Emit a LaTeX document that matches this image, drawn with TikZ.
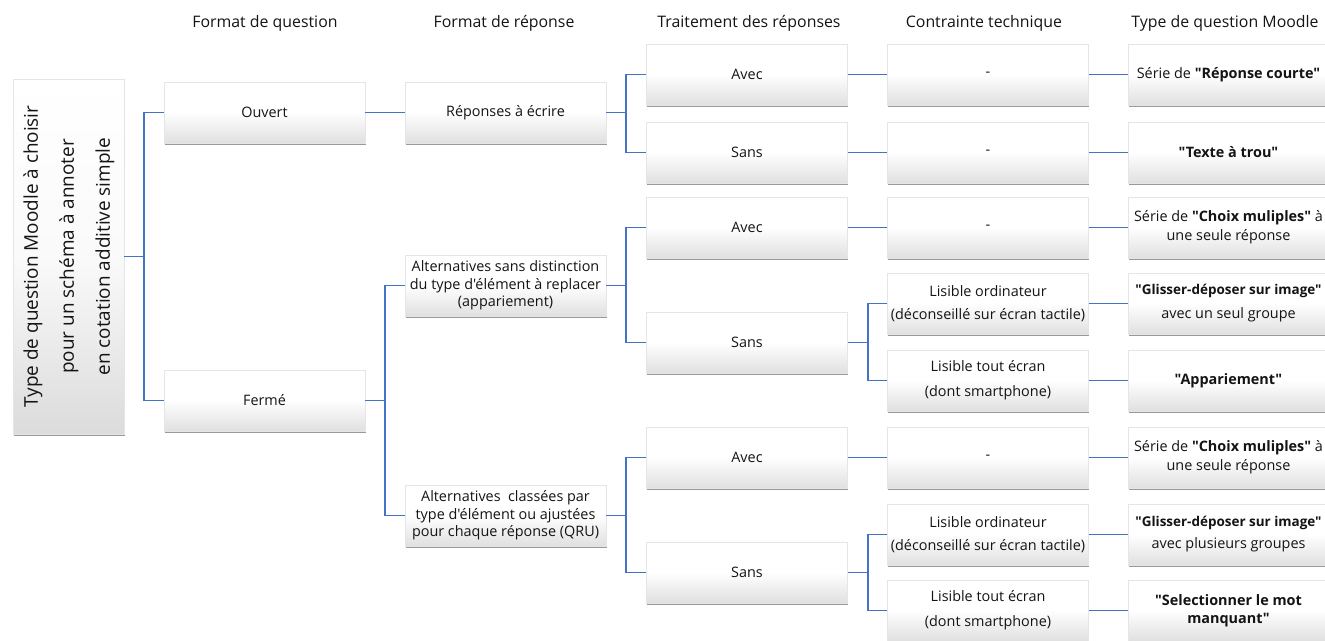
\documentclass[tikz,border=0pt]{standalone}
\usepackage{fontspec}
\setmainfont{Open Sans}[Ligatures=TeXOff]
\usetikzlibrary{shadows}
\definecolor{linkblue}{RGB}{68,114,196}
\definecolor{txt}{RGB}{20,20,20}
\tikzset{
  box/.style={draw=black!10, line width=0.3pt, top color=white, bottom color=black!12, middle color=white,
    minimum width=150.75pt, minimum height=45.75pt, inner sep=0.5pt, align=center, text=txt,
    font=\fontsize{10.8}{13.2}\selectfont,
    drop shadow={shadow xshift=0.6pt, shadow yshift=-1.4pt, opacity=0.5, fill=black!80}},
  rootbox/.style={box, minimum width=83.25pt, minimum height=266.25pt, bottom color=black!14, middle color=black!2},
  conn/.style={draw=linkblue, line width=0.8pt},
  head/.style={font=\fontsize{11.9}{14}\selectfont, text=txt}
}
\newcommand\glisser{{\fontsize{10.1}{13.2}\selectfont\textbf{"Glisser-déposer sur image"}}}
\begin{document}
\begin{tikzpicture}[x=0.75pt,y=-0.75pt]
\useasboundingbox (0,0) rectangle (1325,641);
% headers
\node[head] (h1) at (265,23) {Format de question};
\node[head] (h2) at (504,23) {Format de réponse};
\node[head] (h3) at (749,23) {Traitement des réponses};
\node[head] (h4) at (984,23) {Contrainte technique};
\node[head] (h5) at (1225,23) {Type de question Moodle};
% root
\node[rootbox] (root) at (68.5,256.5) {};
\node[rotate=90, align=center, text=txt, font=\fontsize{14.2}{27}\selectfont] (roottext) at (69,256.5)
  {Type de question Moodle à choisir\\pour un schéma à annoter\\en cotation additive simple};
% column 1
\node[box] (ouvert) at (264.5,112.5) {Ouvert};
\node[box] (ferme) at (264.5,400.5) {Fermé};
% column 2
\node[box] (rep) at (505.5,112.5) {Réponses à écrire};
\node[box] (altsans) at (505.5,285.5) {Alternatives sans distinction\\du type d'élément à replacer\\(appariement)};
\node[box] (altclass) at (505.5,515.5) {Alternatives \ classées par\\type d'élément ou ajustées\\pour chaque réponse (QRU)};
% column 3
\node[box] (avec1) at (747,74.5) {Avec};
\node[box] (sans1) at (747,152.5) {Sans};
\node[box] (avec2) at (747,227.5) {Avec};
\node[box] (sans2) at (747,342.5) {Sans};
\node[box] (avec3) at (747,457.5) {Avec};
\node[box] (sans3) at (747,572.5) {Sans};
% column 4
\node[box] (d1) at (988,74.5) {-};
\node[box] (d2) at (988,152.5) {-};
\node[box] (d3) at (988,227.5) {-};
\node[box] (lo1) at (988,303.5) {Lisible ordinateur\\[4pt](déconseillé sur écran tactile)};
\node[box] (lt1) at (988,380.5) {Lisible tout écran\\[5.5pt](dont smartphone)};
\node[box] (d4) at (988,457.5) {-};
\node[box] (lo2) at (988,534.5) {Lisible ordinateur\\[4pt](déconseillé sur écran tactile)};
\node[box] (lt2) at (988,610.5) {Lisible tout écran\\[5.5pt](dont smartphone)};
% column 5
\node[box] (m1) at (1228.5,74.5) {Série de \textbf{"Réponse courte"}};
\node[box] (m2) at (1228.5,152.5) {\textbf{"Texte à trou"}};
\node[box] (m3) at (1228.5,227.5) {Série de \textbf{"Choix muliples"} à\\[1pt]une seule réponse};
\node[box] (m4) at (1228.5,303.5) {\glisser\\[4.8pt]avec un seul groupe};
\node[box] (m5) at (1228.5,380.5) {\textbf{"Appariement"}};
\node[box] (m6) at (1228.5,457.5) {Série de \textbf{"Choix muliples"} à\\[1pt]une seule réponse};
\node[box] (m7) at (1228.5,534.5) {\glisser\\[3.3pt]avec plusieurs groupes};
\node[box] (m8) at (1228.5,610.5) {\textbf{"Selectionner le mot}\\[0.3pt]\textbf{manquant"}};
% junctions
\coordinate (j0) at (144,256.5);
\coordinate (j1) at (385,400.5);
\coordinate (j2) at (626,112.5);
\coordinate (j3) at (626,285.5);
\coordinate (j4) at (626,515.5);
\coordinate (j5) at (868,342.5);
\coordinate (j6) at (868,572.5);
% connectors
\draw[conn] (root.east) -- (j0);
\draw[conn] (ouvert.west) -| (j0) |- (ferme.west);
\draw[conn] (ouvert.east) -- (rep.west);
\draw[conn] (ferme.east) -- (j1);
\draw[conn] (altsans.west) -| (j1) |- (altclass.west);
\draw[conn] (rep.east) -- (j2);
\draw[conn] (avec1.west) -| (j2) |- (sans1.west);
\draw[conn] (altsans.east) -- (j3);
\draw[conn] (avec2.west) -| (j3) |- (sans2.west);
\draw[conn] (altclass.east) -- (j4);
\draw[conn] (avec3.west) -| (j4) |- (sans3.west);
\draw[conn] (sans2.east) -- (j5);
\draw[conn] (lo1.west) -| (j5) |- (lt1.west);
\draw[conn] (sans3.east) -- (j6);
\draw[conn] (lo2.west) -| (j6) |- (lt2.west);
\draw[conn] (avec1.east) -- (d1.west);
\draw[conn] (sans1.east) -- (d2.west);
\draw[conn] (avec2.east) -- (d3.west);
\draw[conn] (avec3.east) -- (d4.west);
\draw[conn] (d1.east) -- (m1.west);
\draw[conn] (d2.east) -- (m2.west);
\draw[conn] (d3.east) -- (m3.west);
\draw[conn] (lo1.east) -- (m4.west);
\draw[conn] (lt1.east) -- (m5.west);
\draw[conn] (d4.east) -- (m6.west);
\draw[conn] (lo2.east) -- (m7.west);
\draw[conn] (lt2.east) -- (m8.west);
\end{tikzpicture}
\end{document}
